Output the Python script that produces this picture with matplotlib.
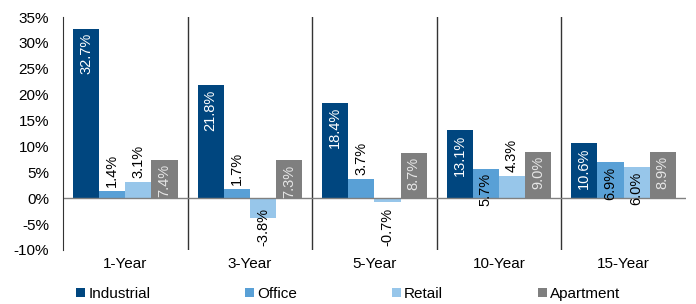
import matplotlib.pyplot as plt
import numpy as np

plt.rcParams['font.family'] = ['Liberation Sans', 'DejaVu Sans']

periods = ['1-Year', '3-Year', '5-Year', '10-Year', '15-Year']
industrial = [32.7, 21.8, 18.4, 13.1, 10.6]
office = [1.4, 1.7, 3.7, 5.7, 6.9]
retail = [3.1, -3.8, -0.7, 4.3, 6.0]
apartment = [7.4, 7.3, 8.7, 9.0, 8.9]

# label placement per bar: 'in' = inside the end, 'out' = beyond the end
industrial_pos = ['in', 'in', 'in', 'in', 'in']
office_pos = ['out', 'out', 'out', 'in', 'in']
retail_pos = ['out', 'out', 'out', 'out', 'in']
apartment_pos = ['in', 'in', 'in', 'in', 'in']

series = [
    ('Industrial', industrial, industrial_pos, '#00467F', 'white'),
    ('Office', office, office_pos, '#59A0D6', 'black'),
    ('Retail', retail, retail_pos, '#97C6EA', 'black'),
    ('Apartment', apartment, apartment_pos, '#7F7F7F', '#E6E6E6'),
]

fig = plt.figure(figsize=(6.96, 3.04), dpi=100)
ax = fig.add_axes([0.0905, 0.178, 0.895, 0.766])

x = np.arange(len(periods))
w = 0.21
for i, (name, vals, pos, color, incol) in enumerate(series):
    xs = x + (i - 1.5) * w
    ax.bar(xs, vals, width=w, color=color, label=name, zorder=2)
    for xi, v, p in zip(xs, vals, pos):
        txt = f'{v:.1f}%'
        y, off, col = v, 0, 'black'
        if v < 0:
            # negative labels sit just above the bottom of the plot
            y, va = -9.2, 'bottom'
        elif p == 'in':
            off, va, col = -3, 'top', incol
        else:
            off, va = 3, 'bottom'
        ax.annotate(txt, (xi, y), xytext=(0, off), textcoords='offset points',
                    ha='center', va=va, rotation=90, fontsize=10.5, color=col,
                    zorder=3)

ax.axhline(0, color='#808080', lw=1, zorder=2.5)
for sep in [0.5, 1.5, 2.5, 3.5]:
    ax.axvline(sep, color='#333333', lw=1, zorder=1)

ax.set_xlim(-0.5, 4.5)
ax.set_ylim(-10, 35)
ax.set_yticks(range(-10, 40, 5))
ax.set_yticklabels([f'{v}%' for v in range(-10, 40, 5)])
ax.set_xticks(x)
ax.set_xticklabels(periods)
ax.tick_params(axis='y', length=0, pad=10, labelsize=11)
ax.tick_params(axis='x', length=0, pad=5, labelsize=11)

for s in ['top', 'right', 'bottom']:
    ax.spines[s].set_visible(False)
ax.spines['left'].set_color('#333333')

fig.legend(loc='center', bbox_to_anchor=(0.5, 0.033), ncol=4, frameon=False,
           fontsize=11, handlelength=0.6, handleheight=0.6, handletextpad=0.2,
           columnspacing=6.2)

fig.savefig('out.png', dpi=100)
